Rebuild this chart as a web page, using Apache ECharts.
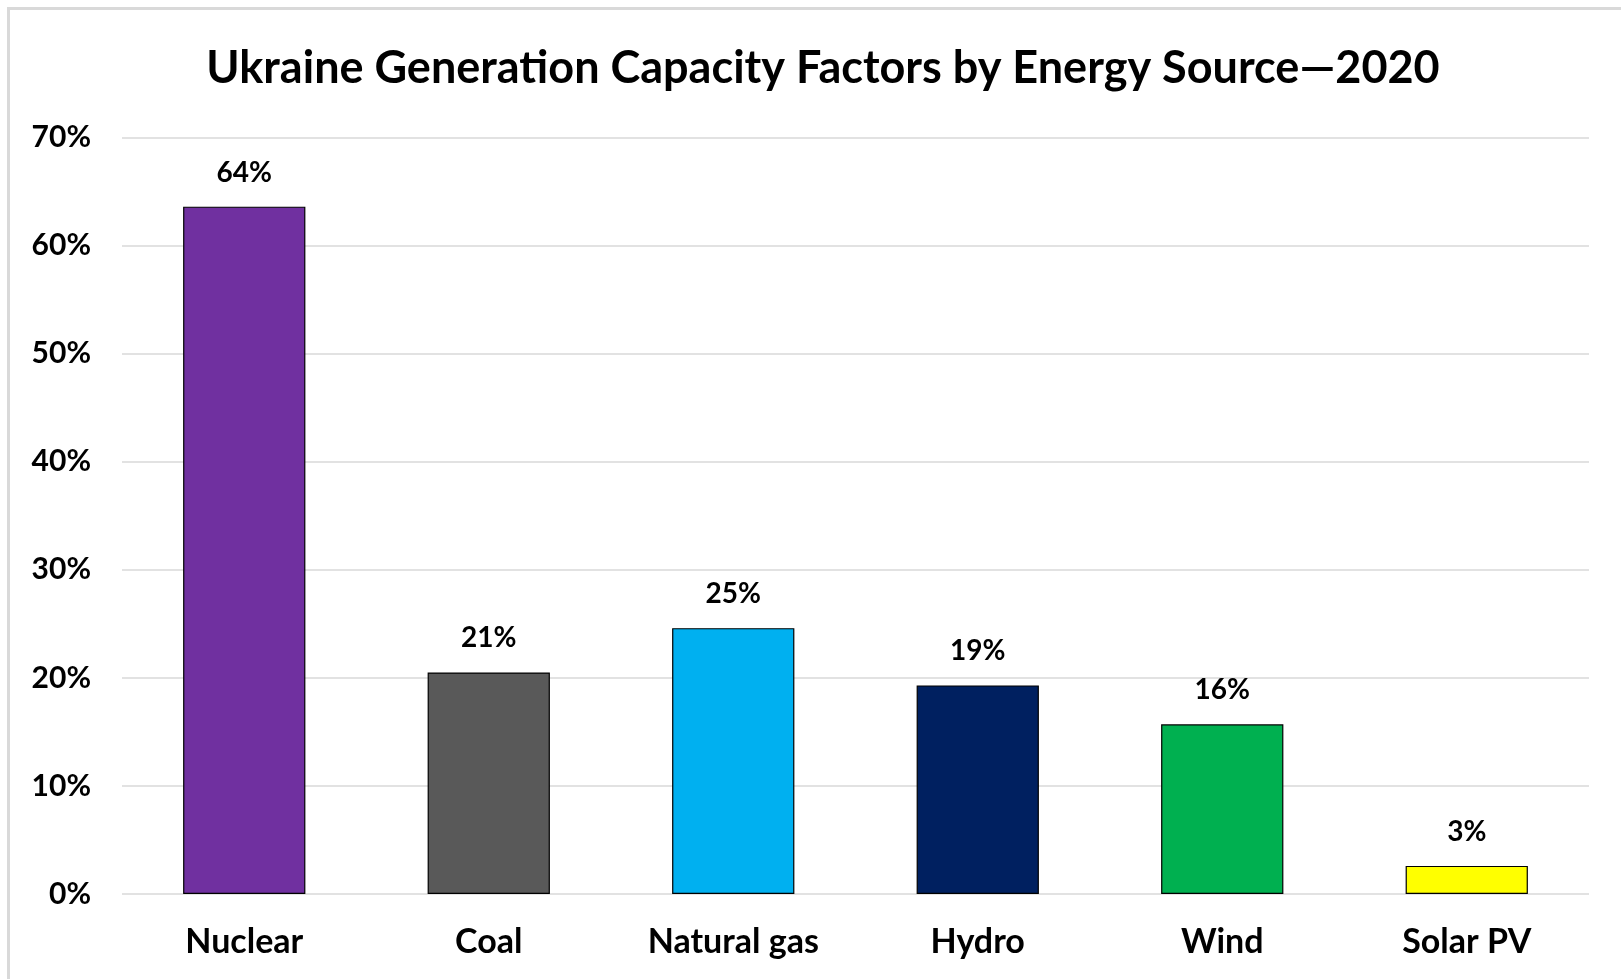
<!DOCTYPE html>
<html>
<head>
<meta charset="utf-8">
<title>Ukraine Generation Capacity Factors by Energy Source—2020</title>
<script src="https://cdn.jsdelivr.net/npm/echarts@6/dist/echarts.min.js"></script>
<style>
  html, body { margin: 0; padding: 0; background: #ffffff; }
  #chart { width: 1621px; height: 979px; }
</style>
</head>
<body>
<div id="chart"></div>
<script>
// Energy sources and their 2020 capacity factors (fraction of nameplate output)
const categories = ['Nuclear', 'Coal', 'Natural gas', 'Hydro', 'Wind', 'Solar PV'];
const capacityFactors = [0.636, 0.205, 0.246, 0.193, 0.157, 0.026];
const barColors = ['#7030A0', '#595959', '#00B0F0', '#002060', '#00B050', '#FFFF00'];
const yTicks = { min: 0, max: 0.7, interval: 0.1 };

const FONT = 'Lato, "Open Sans", sans-serif';
const pct = v => Math.round(v * 100) + '%';

const chart = echarts.init(document.getElementById('chart'), null, { renderer: 'canvas' });

chart.setOption({
  backgroundColor: '#ffffff',
  animation: false,
  title: {
    text: 'Ukraine Generation Capacity Factors by Energy Source—2020',
    left: 818,
    top: 41,
    textAlign: 'center',
    textStyle: { fontFamily: FONT, fontWeight: 'bold', fontSize: 45, color: '#000000' }
  },
  graphic: [{
    type: 'rect',
    silent: true,
    shape: { x: 8.5, y: 8.5, width: 1700, height: 1100 },
    style: { fill: 'none', stroke: '#d9d9d9', lineWidth: 3 }
  }],
  grid: { left: 122, right: 32, top: 137.5, bottom: 85, containLabel: false },
  xAxis: {
    type: 'category',
    data: categories,
    axisLine: { show: false },
    axisTick: { show: false },
    axisLabel: {
      margin: 31,
      fontFamily: FONT, fontWeight: 'bold', fontSize: 34, lineHeight: 34, color: '#000000'
    }
  },
  yAxis: {
    type: 'value',
    min: yTicks.min,
    max: yTicks.max,
    interval: yTicks.interval,
    axisLine: { show: false },
    axisTick: { show: false },
    splitLine: { lineStyle: { color: '#d9d9d9', width: 1.5 } },
    axisLabel: {
      margin: 31,
      formatter: pct,
      fontFamily: FONT, fontWeight: 'bold', fontSize: 30, color: '#000000'
    }
  },
  series: [{
    type: 'bar',
    data: capacityFactors.map((v, i) => ({ value: v, itemStyle: { color: barColors[i] } })),
    barCategoryGap: '50%',
    itemStyle: { borderColor: '#000000', borderWidth: 1.2 },
    label: {
      show: true,
      position: 'top',
      distance: 20,
      formatter: p => pct(p.value),
      fontFamily: FONT, fontWeight: 'bold', fontSize: 28, color: '#000000'
    }
  }]
});
</script>
</body>
</html>
